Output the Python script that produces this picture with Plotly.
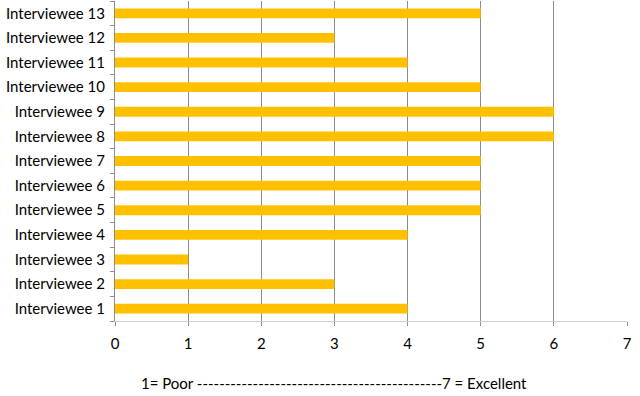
import plotly.graph_objects as go

categories = [f"Interviewee {i}" for i in range(1, 14)]
values = [4, 3, 1, 4, 5, 5, 5, 6, 6, 5, 4, 3, 5]
x_ticks = [0, 1, 2, 3, 4, 5, 6, 7]
axis_caption = "1= Poor " + "-" * 44 + "7 = Excellent"

fig = go.Figure(go.Bar(
    x=values, y=categories, orientation="h",
    marker=dict(color="#FFC000", line=dict(width=0)),
    width=0.4,
))

font = dict(family="Lato, Carlito, Calibri, sans-serif", size=15, color="#000000")

fig.update_layout(
    width=640, height=396,
    margin=dict(l=115, r=13, t=1, b=75),
    paper_bgcolor="white", plot_bgcolor="white",
    font=font,
    showlegend=False,
    xaxis=dict(
        range=[0, 7], tickvals=x_ticks, showgrid=True, gridcolor="#8c8c8c", gridwidth=1,
        zeroline=False, showline=True, linecolor="#d0d0d0", linewidth=1,
        ticks="outside", ticklen=4, tickcolor="#8c8c8c", ticklabelstandoff=5,
        fixedrange=True, automargin=False,
    ),
    yaxis=dict(
        categoryorder="array", categoryarray=categories,
        showline=True, linecolor="#8c8c8c", linewidth=1,
        ticks="outside", ticklen=4, tickcolor="#8c8c8c", tickson="boundaries",
        showgrid=False, ticklabelstandoff=6, range=[-0.5, 12.5], automargin=False,
    ),
    annotations=[dict(
        text=axis_caption, xref="paper", yref="paper", x=(334 - 115) / 512, y=-62 / 320,
        xanchor="center", yanchor="middle", showarrow=False, font=font,
    )],
)

fig.write_html("out.html", post_script="document.body.style.margin='0';",
               config={"displayModeBar": False})
